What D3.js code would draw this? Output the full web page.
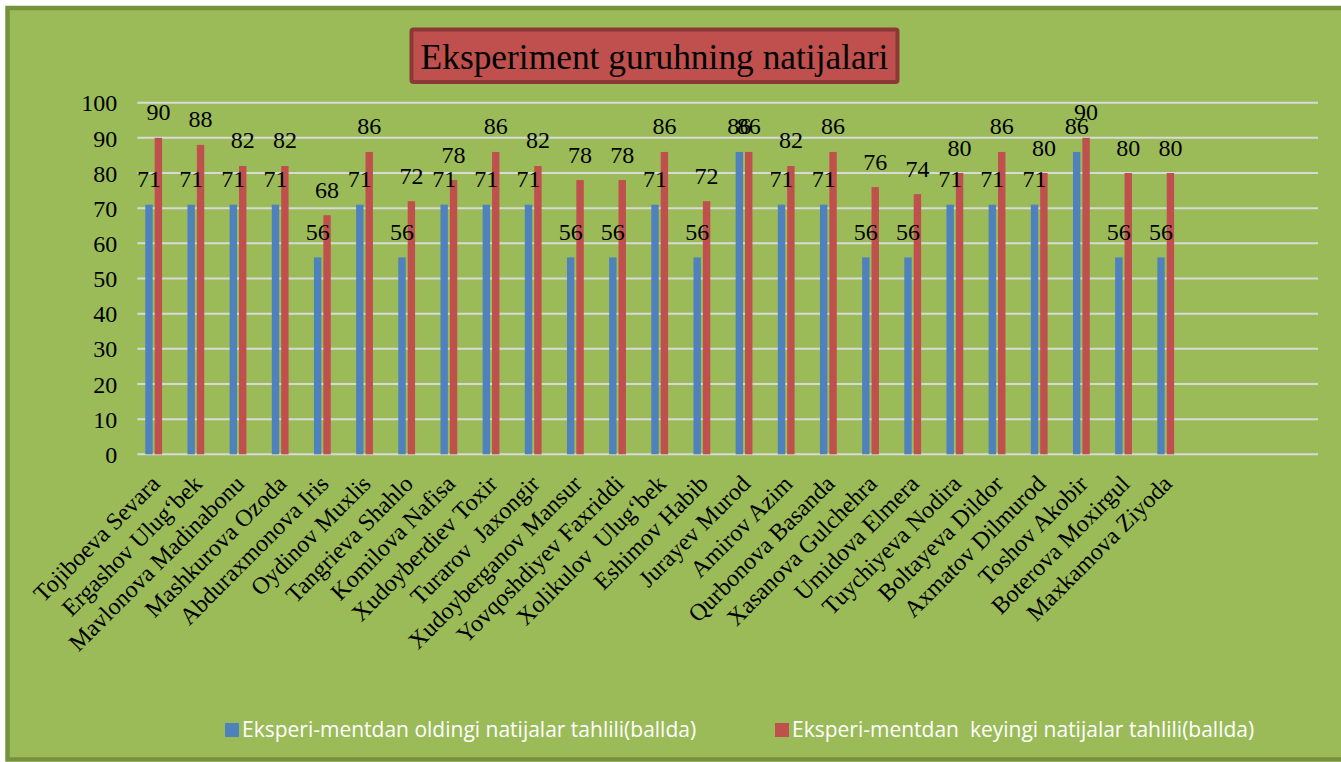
<!DOCTYPE html>
<html>
<head>
<meta charset="utf-8">
<script src="https://cdn.jsdelivr.net/npm/d3@7"></script>
<style>
  html, body { margin: 0; padding: 0; background: #ffffff; }
  svg { display: block; }
  text { white-space: pre; }
</style>
</head>
<body>
<svg id="chart" width="1341" height="762"></svg>
<script>
// Student names (category axis)
const categories = [
  "Tojiboeva Sevara", "Ergashov Ulug\u2018bek", "Mavlonova Madinabonu", "Mashkurova Ozoda",
  "Abduraxmonova Iris", "Oydinov Muxlis", "Tangrieva Shahlo", "Komilova Nafisa",
  "Xudoyberdiev Toxir", "Turarov  Jaxongir", "Xudoyberganov Mansur", "Yovqoshdiyev Faxriddi",
  "Xolikulov  Ulug\u2018bek", "Eshimov Habib", "Jurayev Murod", "Amirov Azim",
  "Qurbonova Basanda", "Xasanova Gulchehra", "Umidova Elmera", "Tuychiyeva Nodira",
  "Boltayeva Dildor", "Axmatov Dilmurod", "Toshov Akobir", "Boterova Moxirgul",
  "Maxkamova Ziyoda"
];

// Scores before the experiment
const before = [71, 71, 71, 71, 56, 71, 56, 71, 71, 71, 56, 56, 71, 56, 86, 71, 71, 56, 56, 71, 71, 71, 86, 56, 56];
// Scores after the experiment
const after = [90, 88, 82, 82, 68, 86, 72, 78, 86, 82, 78, 78, 86, 72, 86, 82, 86, 76, 74, 80, 86, 80, 90, 80, 80];

const seriesNames = [
  "Eksperi-mentdan oldingi natijalar tahlili(ballda)",
  "Eksperi-mentdan  keyingi natijalar tahlili(ballda)"
];
const seriesColors = ["#4F81BD", "#C0504D"];
const yTicks = [0, 10, 20, 30, 40, 50, 60, 70, 80, 90, 100];
const titleText = "Eksperiment guruhning natijalari";

// The category axis reserves 28 slots; three trailing slots stay empty.
const slotCount = 28;
// Each slot holds three bar positions; only the first two carry data.
const barSlots = [0, 1, 2];

const serif = "'Liberation Serif', 'Times New Roman', serif";
const svg = d3.select("#chart");
const W = 1341, H = 762;

// Chart area background and frame
svg.append("rect")
  .attr("x", 7.5).attr("y", 8)
  .attr("width", W + 10).attr("height", H - 10.5)
  .attr("fill", "#9BBB59")
  .attr("stroke", "#76923C")
  .attr("stroke-width", 4.5);

const plot = { left: 137.3, right: 1318, top: 102.7, bottom: 454.3 };

const x = d3.scaleBand()
  .domain(d3.range(slotCount))
  .range([plot.left, plot.right])
  .padding(0);

const xInner = d3.scaleBand()
  .domain(barSlots)
  .range([-14.1, 14.1])
  .paddingInner(0.213)
  .paddingOuter(0.1065);

const y = d3.scaleLinear()
  .domain([0, 100])
  .range([plot.bottom, plot.top]);

// Horizontal gridlines
svg.append("g")
  .selectAll("line")
  .data(yTicks)
  .join("line")
  .attr("x1", plot.left).attr("x2", plot.right)
  .attr("y1", d => y(d)).attr("y2", d => y(d))
  .attr("stroke", "#D9D9D9")
  .attr("stroke-width", 2);

// Value axis labels
const yAxis = d3.axisLeft(y).tickValues(yTicks).tickSize(0).tickPadding(0);
const yG = svg.append("g")
  .attr("transform", `translate(${plot.left - 20},0)`)
  .call(yAxis)
  .attr("font-family", serif)
  .attr("font-size", 24);
yG.select(".domain").remove();
yG.selectAll("text")
  .attr("fill", "#000")
  .attr("dy", "0.34em");

// Bars
const series = [before, after];
const barsG = svg.append("g");
series.forEach((vals, s) => {
  barsG.append("g")
    .selectAll("rect")
    .data(vals)
    .join("rect")
    .attr("x", (d, i) => x(i) + x.bandwidth() / 2 + xInner(s))
    .attr("width", xInner.bandwidth())
    .attr("y", d => y(d))
    .attr("height", d => y(0) - y(d))
    .attr("fill", seriesColors[s]);
});

// Data labels
series.forEach((vals, s) => {
  svg.append("g")
    .selectAll("text")
    .data(vals)
    .join("text")
    .attr("x", (d, i) => x(i) + x.bandwidth() / 2 + xInner(s) + xInner.bandwidth() / 2)
    .attr("y", d => y(d) - 17.5)
    .attr("text-anchor", "middle")
    .attr("font-family", serif)
    .attr("font-size", 24)
    .attr("fill", "#000")
    .text(d => d);
});

// Category labels, rotated
svg.append("g")
  .selectAll("text")
  .data(categories)
  .join("text")
  .attr("transform", (d, i) => `translate(${x(i) + x.bandwidth() / 2 + 3},${plot.bottom + 31}) rotate(-45)`)
  .attr("text-anchor", "end")
  .attr("font-family", serif)
  .attr("font-size", 24)
  .attr("fill", "#000")
  .text(d => d);

// Title box
const titleBox = { x: 411.5, y: 29.5, w: 486, h: 52.5 };
svg.append("rect")
  .attr("x", titleBox.x).attr("y", titleBox.y)
  .attr("width", titleBox.w).attr("height", titleBox.h)
  .attr("rx", 2)
  .attr("fill", "#C0504D")
  .attr("stroke", "#8C3836")
  .attr("stroke-width", 4);
svg.append("text")
  .attr("x", titleBox.x + titleBox.w / 2)
  .attr("y", 69)
  .attr("text-anchor", "middle")
  .attr("font-family", serif)
  .attr("font-size", 35.4)
  .attr("fill", "#000")
  .text(titleText);

// Legend
const legendItems = [
  { x: 225, name: seriesNames[0], color: seriesColors[0] },
  { x: 775, name: seriesNames[1], color: seriesColors[1] }
];
const lg = svg.append("g").selectAll("g").data(legendItems).join("g")
  .attr("transform", d => `translate(${d.x},723)`);
lg.append("rect")
  .attr("width", 14).attr("height", 14)
  .attr("fill", d => d.color);
lg.append("text")
  .attr("x", 17).attr("y", 13.5)
  .attr("font-family", "'Open Sans', 'Noto Sans', sans-serif")
  .attr("font-size", 21)
  .attr("fill", "#ffffff")
  .text(d => d.name);
</script>
</body>
</html>
